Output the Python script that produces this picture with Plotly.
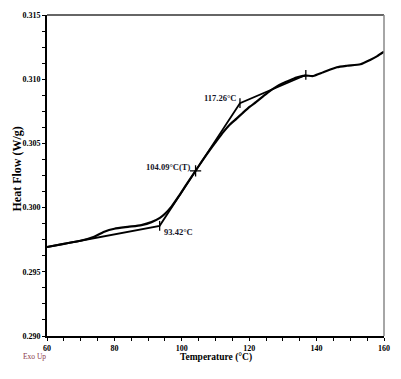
import plotly.graph_objects as go

# DSC curve (Temperature °C, Heat Flow W/g)
temp = [60, 65, 70, 72, 74, 77, 80, 84, 88, 91, 93.5, 95, 97, 99, 101, 104.09,
        106, 108.3, 110, 112.3, 114, 116.25, 118, 120.2, 122, 124.2, 126, 128.1,
        130, 132.1, 134, 136, 137, 139, 142, 146, 149, 153, 156, 158, 160]
heat_flow = [0.29693, 0.29718, 0.29742, 0.29755, 0.29773, 0.29812, 0.29835, 0.29850,
             0.29864, 0.29887, 0.29920, 0.29952, 0.30010, 0.30085, 0.30165, 0.30287,
             0.30362, 0.30448, 0.30508, 0.30588, 0.30640, 0.30693, 0.30735, 0.30786,
             0.30822, 0.30868, 0.30905, 0.30942, 0.30968, 0.30992, 0.31012, 0.31026,
             0.31028, 0.31025, 0.31054, 0.31093, 0.31105, 0.31116, 0.31152, 0.31180,
             0.31214]

# Glass transition construction
tg_temp = [60, 93.42, 104.09, 117.26, 136.8]
tg_hf = [0.29693, 0.29858, 0.30286, 0.30813, 0.31033]
tg_labels = ["93.42°C", "104.09°C(T)", "117.26°C"]

x_ticks = [60, 80, 100, 120, 140, 160]
y_ticks = [0.290, 0.295, 0.300, 0.305, 0.310, 0.315]

SERIF = "Liberation Serif, Times New Roman, serif"

# page has an 8px body margin; size the figure so it fills the window
OFF = 8
W, H = 401 - OFF, 379 - OFF
PL, PR, PT, PB = 47.3, 383.7, 15.0, 336.3   # plot box in window pixels


def px(x):
    return (x - PL) / (PR - PL)


def py(y):
    return (PB - y) / (PB - PT)


fig = go.Figure()
fig.add_trace(go.Scatter(x=temp, y=heat_flow, mode="lines",
                         line=dict(color="black", width=2.2, shape="spline",
                                   smoothing=0.6),
                         hoverinfo="skip"))
fig.add_trace(go.Scatter(x=tg_temp, y=tg_hf, mode="lines",
                         line=dict(color="black", width=1.8), hoverinfo="skip"))
fig.add_trace(go.Scatter(x=[tg_temp[1], tg_temp[3], tg_temp[4]],
                         y=[tg_hf[1], tg_hf[3], tg_hf[4]], mode="markers",
                         marker=dict(symbol="line-ns", size=7,
                                     line=dict(color="black", width=1.3)),
                         hoverinfo="skip"))
fig.add_trace(go.Scatter(x=[tg_temp[2]], y=[tg_hf[2]], mode="markers",
                         marker=dict(symbol="cross-thin", size=8,
                                     line=dict(color="black", width=1.3)),
                         hoverinfo="skip"))

lab_font = dict(family=SERIF, size=8.5, color="#141428")
fig.add_annotation(x=tg_temp[1], y=tg_hf[1], text="<b>%s</b>" % tg_labels[0],
                   showarrow=False, xanchor="left", yanchor="middle",
                   xshift=2, yshift=-6, font=lab_font)
fig.add_annotation(x=tg_temp[2], y=tg_hf[2], text="<b>%s</b>" % tg_labels[1],
                   showarrow=False, xanchor="right", yanchor="middle",
                   xshift=-4, yshift=4, font=lab_font)
fig.add_annotation(x=tg_temp[3], y=tg_hf[3], text="<b>%s</b>" % tg_labels[2],
                   showarrow=False, xanchor="right", yanchor="middle",
                   xshift=-2, yshift=5, font=lab_font)

fig.add_annotation(x=px(215.5), y=py(358), xref="paper", yref="paper",
                   text="<b>Temperature (°C)</b>", showarrow=False,
                   xanchor="center", yanchor="middle",
                   font=dict(family=SERIF, size=9.5, color="black"))
fig.add_annotation(x=px(17), y=py(169), xref="paper", yref="paper",
                   text="<b>Heat Flow (W/g)</b>", showarrow=False, textangle=-90,
                   xanchor="center", yanchor="middle",
                   font=dict(family=SERIF, size=12, color="black"))
fig.add_annotation(x=px(21.5), y=py(356.7), xref="paper", yref="paper",
                   text="Exo Up", showarrow=False, xanchor="left", yanchor="middle",
                   font=dict(family=SERIF, size=7.5, color="#8b3a4a"))

fig.add_shape(type="line", xref="paper", yref="paper", x0=0, x1=1, y0=1, y1=1,
              line=dict(color="#333333", width=1.5))
fig.add_shape(type="line", xref="paper", yref="paper", x0=1, x1=1, y0=0, y1=1,
              line=dict(color="#888888", width=1.5))

tick_font = dict(family=SERIF, size=8, color="black")
fig.update_xaxes(range=[60, 160], tickvals=x_ticks,
                 ticktext=["<b>%d</b>" % v for v in x_ticks],
                 showgrid=False, zeroline=False, showline=True,
                 linecolor="black", linewidth=2, ticks="outside", ticklen=3,
                 tickwidth=1.2, tickcolor="black", tickfont=tick_font,
                 minor=dict(dtick=5, ticks="outside", ticklen=3, tickwidth=1,
                            tickcolor="black", showgrid=False))
fig.update_yaxes(range=[0.290, 0.315], tickvals=y_ticks,
                 ticktext=["<b>%.3f</b>" % v for v in y_ticks],
                 showgrid=False, zeroline=False, showline=True,
                 linecolor="black", linewidth=2, ticks="outside", ticklen=3,
                 tickwidth=1.2, tickcolor="black", tickfont=tick_font,
                 minor=dict(dtick=0.00125, tick0=0.29, ticks="outside", ticklen=3,
                            tickwidth=1, tickcolor="black", showgrid=False))

fig.update_layout(width=W, height=H, showlegend=False,
                  paper_bgcolor="white", plot_bgcolor="white",
                  margin=dict(l=PL - OFF, r=W - (PR - OFF), t=PT - OFF,
                              b=H - (PB - OFF), autoexpand=False))

fig.write_html("out.html")
